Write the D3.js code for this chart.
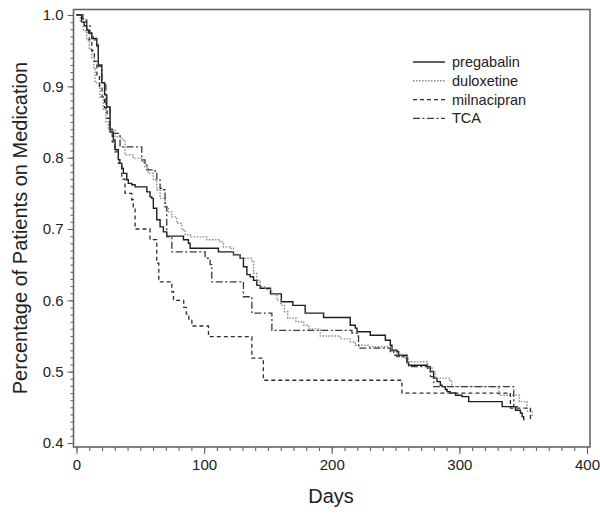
<!DOCTYPE html>
<html>
<head>
<meta charset="utf-8">
<script src="https://cdn.jsdelivr.net/npm/d3@7"></script>
<style>
  html, body { margin: 0; padding: 0; background: #fff; }
  svg { display: block; font-family: "Liberation Sans", Arial, sans-serif; }
</style>
</head>
<body>
<svg id="chart" width="600" height="515"></svg>
<script>
// Kaplan–Meier style persistence curves: [day, proportion still on medication]
const pregabalin = [
  [0,1.0],[4,0.99],[6,0.985],[8,0.979],[9.3,0.975],[12,0.967],[15.8,0.958],[17.1,0.930],
  [19.8,0.905],[22,0.888],[23.7,0.871],[26.3,0.836],[28.9,0.825],[30.2,0.811],[32.8,0.797],
  [34,0.792],[35.5,0.785],[36.7,0.778],[39.4,0.769],[40.6,0.764],[43.3,0.762],[45.9,0.759],
  [55.1,0.752],[57.6,0.745],[59,0.743],[60.2,0.729],[62.9,0.713],[65.5,0.703],[68.1,0.696],
  [70.7,0.690],[83.8,0.685],[87.7,0.680],[89,0.673],[111.2,0.668],[123,0.664],[128.2,0.659],
  [130.8,0.647],[133.5,0.636],[136.1,0.633],[138.7,0.628],[141.3,0.621],[143.9,0.617],
  [152,0.609],[160.5,0.598],[169.5,0.593],[179.2,0.582],[193.6,0.576],[214.5,0.565],
  [218.4,0.561],[219.8,0.556],[230.2,0.551],[242,0.544],[245.9,0.537],[247.2,0.530],
  [251.1,0.528],[252.4,0.523],[259,0.514],[260.2,0.509],[275,0.505],[277.3,0.500],
  [279.8,0.491],[282.5,0.486],[285.1,0.481],[286.4,0.479],[289,0.475],[290.4,0.472],
  [292.9,0.470],[297,0.467],[302,0.465],[307.3,0.458],[333.5,0.451],[344,0.446],
  [347.8,0.442],[349.2,0.437],[350.4,0.433],[351,0.433]
];
const duloxetine = [
  [0,1.0],[3,0.99],[5.5,0.978],[8,0.965],[10,0.952],[12,0.94],[13.5,0.925],[14.5,0.905],
  [18.4,0.885],[21,0.867],[23,0.85],[24.9,0.839],[30.2,0.829],[35.5,0.825],[38,0.804],
  [44.5,0.799],[51.1,0.794],[53.7,0.787],[56.3,0.778],[60.2,0.769],[62.9,0.755],[65.5,0.743],
  [69.4,0.731],[72,0.724],[74.7,0.717],[78.6,0.708],[82.5,0.699],[85.1,0.692],[89,0.689],
  [102.1,0.685],[112.5,0.682],[115.1,0.675],[120.4,0.673],[123,0.664],[128,0.659],
  [137.4,0.654],[138.7,0.638],[141.3,0.628],[143.9,0.619],[148,0.615],[153,0.608],
  [157,0.600],[160,0.593],[163,0.584],[165.5,0.575],[172,0.570],[178,0.565],[182,0.560],
  [191,0.550],[206.6,0.546],[214.5,0.542],[218.4,0.537],[229,0.535],[247,0.529],
  [251,0.524],[255,0.521],[260,0.514],[275,0.505],[279,0.500],[281,0.491],[292,0.488],
  [294,0.479],[331,0.467],[347,0.458],[353,0.445],[357,0.437],[357.5,0.437]
];
const milnacipran = [
  [0,1.0],[5,0.99],[8,0.978],[10,0.965],[12,0.95],[14,0.935],[16,0.915],[18,0.9],
  [20,0.885],[22,0.87],[24,0.855],[26,0.84],[28,0.822],[30,0.808],[32.8,0.792],
  [35.5,0.770],[38,0.750],[43.3,0.741],[44.5,0.731],[45.9,0.700],[57.6,0.685],[62.9,0.652],
  [64.5,0.626],[74.7,0.612],[76,0.600],[84,0.590],[86,0.581],[88,0.572],[90.4,0.564],
  [103.4,0.549],[137.4,0.519],[146.4,0.488],[255,0.470],[340,0.449],[355.7,0.432],[356,0.432]
];
const tca = [
  [0,1.0],[5.3,0.993],[8,0.985],[10.6,0.974],[13,0.965],[15.8,0.956],[17.1,0.928],
  [20,0.905],[23,0.87],[26.3,0.839],[28.9,0.834],[34.1,0.815],[51.1,0.797],[53.7,0.792],
  [55.1,0.783],[61.6,0.778],[62.9,0.769],[65.5,0.757],[68.1,0.755],[69.4,0.731],
  [70.7,0.689],[74.7,0.668],[100.8,0.659],[104.7,0.650],[106,0.626],[130.8,0.605],
  [137.4,0.582],[153.1,0.558],[215.8,0.554],[219.8,0.550],[221,0.533],[245.9,0.528],
  [248.5,0.523],[251.1,0.521],[256.3,0.519],[259,0.512],[260.2,0.507],[277.3,0.493],
  [280,0.479],[342.6,0.451],[347,0.451]
];

const seriesNames = ["pregabalin", "duloxetine", "milnacipran", "TCA"];
const seriesData = [pregabalin, duloxetine, milnacipran, tca];

const xMajorTicks = [0, 100, 200, 300, 400];
const yMajorTicks = [0.4, 0.5, 0.6, 0.7, 0.8, 0.9, 1.0];

const xTitle = "Days";
const yTitle = "Percentage of Patients on Medication";

// line styles per series
const styles = [
  { stroke: "#1e1e1e", dash: null,        width: 1.4 },
  { stroke: "#8a8a8a", dash: "1.5,1.5",   width: 1.4 },
  { stroke: "#2e2e2e", dash: "4,3",       width: 1.3 },
  { stroke: "#3a3a3a", dash: "7,2.5,2,2.5", width: 1.3 }
];

const svg = d3.select("#chart");
const frame = { left: 73.5, right: 590, top: 9.5, bottom: 447 };

const x = d3.scaleLinear().domain([0, 400]).range([76.5, 587]);
const y = d3.scaleLinear().domain([0.4, 1.0]).range([443, 15]);

const axisColor = "#666";

// plot frame
svg.append("rect")
  .attr("x", frame.left).attr("y", frame.top)
  .attr("width", frame.right - frame.left).attr("height", frame.bottom - frame.top)
  .attr("fill", "none").attr("stroke", axisColor).attr("stroke-width", 1.6);

// y axis: minor ticks every 0.01, major every 0.1
const yMinor = d3.range(40, 101).map(v => v / 100);
const yMinorG = svg.append("g").attr("transform", `translate(${frame.left},0)`)
  .call(d3.axisLeft(y).tickValues(yMinor).tickSize(3).tickFormat(""));
const yMajorG = svg.append("g").attr("transform", `translate(${frame.left},0)`)
  .call(d3.axisLeft(y).tickValues(yMajorTicks).tickSize(6).tickPadding(4).tickFormat(d3.format(".1f")));

// x axis: minor ticks every 10 days, major every 100
const xMinor = d3.range(0, 401, 10);
const xMinorG = svg.append("g").attr("transform", `translate(0,${frame.bottom})`)
  .call(d3.axisBottom(x).tickValues(xMinor).tickSize(4).tickFormat(""));
const xMajorG = svg.append("g").attr("transform", `translate(0,${frame.bottom})`)
  .call(d3.axisBottom(x).tickValues(xMajorTicks).tickSize(7).tickPadding(5).tickFormat(d3.format("d")));

[yMinorG, yMajorG, xMinorG, xMajorG].forEach(g => {
  g.select(".domain").remove();
  g.selectAll(".tick line").attr("stroke", axisColor).attr("stroke-width", 1.1);
  g.selectAll(".tick text").attr("fill", "#222").style("font-size", "15px")
    .style("font-family", "'Liberation Sans', Arial, sans-serif");
});

// axis titles
svg.append("text")
  .attr("x", 331).attr("y", 503)
  .attr("text-anchor", "middle")
  .attr("fill", "#222").style("font-size", "20px")
  .text(xTitle);

svg.append("text")
  .attr("transform", "translate(27,228) rotate(-90)")
  .attr("text-anchor", "middle")
  .attr("fill", "#222").style("font-size", "20px")
  .text(yTitle);

// survival curves
const line = d3.line()
  .x(d => x(d[0]))
  .y(d => y(d[1]))
  .curve(d3.curveStepAfter);

const curves = svg.append("g");
seriesData.forEach((data, i) => {
  curves.append("path")
    .datum(data)
    .attr("d", line)
    .attr("fill", "none")
    .attr("stroke", styles[i].stroke)
    .attr("stroke-width", styles[i].width)
    .attr("stroke-dasharray", styles[i].dash);
});

// legend
const legend = svg.append("g").attr("transform", "translate(413,62)");
seriesNames.forEach((name, i) => {
  const row = legend.append("g").attr("transform", `translate(0,${i * 18.8})`);
  row.append("line")
    .attr("x1", 0).attr("x2", 32).attr("y1", 0).attr("y2", 0)
    .attr("stroke", styles[i].stroke)
    .attr("stroke-width", styles[i].width)
    .attr("stroke-dasharray", styles[i].dash);
  row.append("text")
    .attr("x", 39).attr("y", 5)
    .attr("fill", "#222").style("font-size", "14.5px")
    .text(name);
});
</script>
</body>
</html>
